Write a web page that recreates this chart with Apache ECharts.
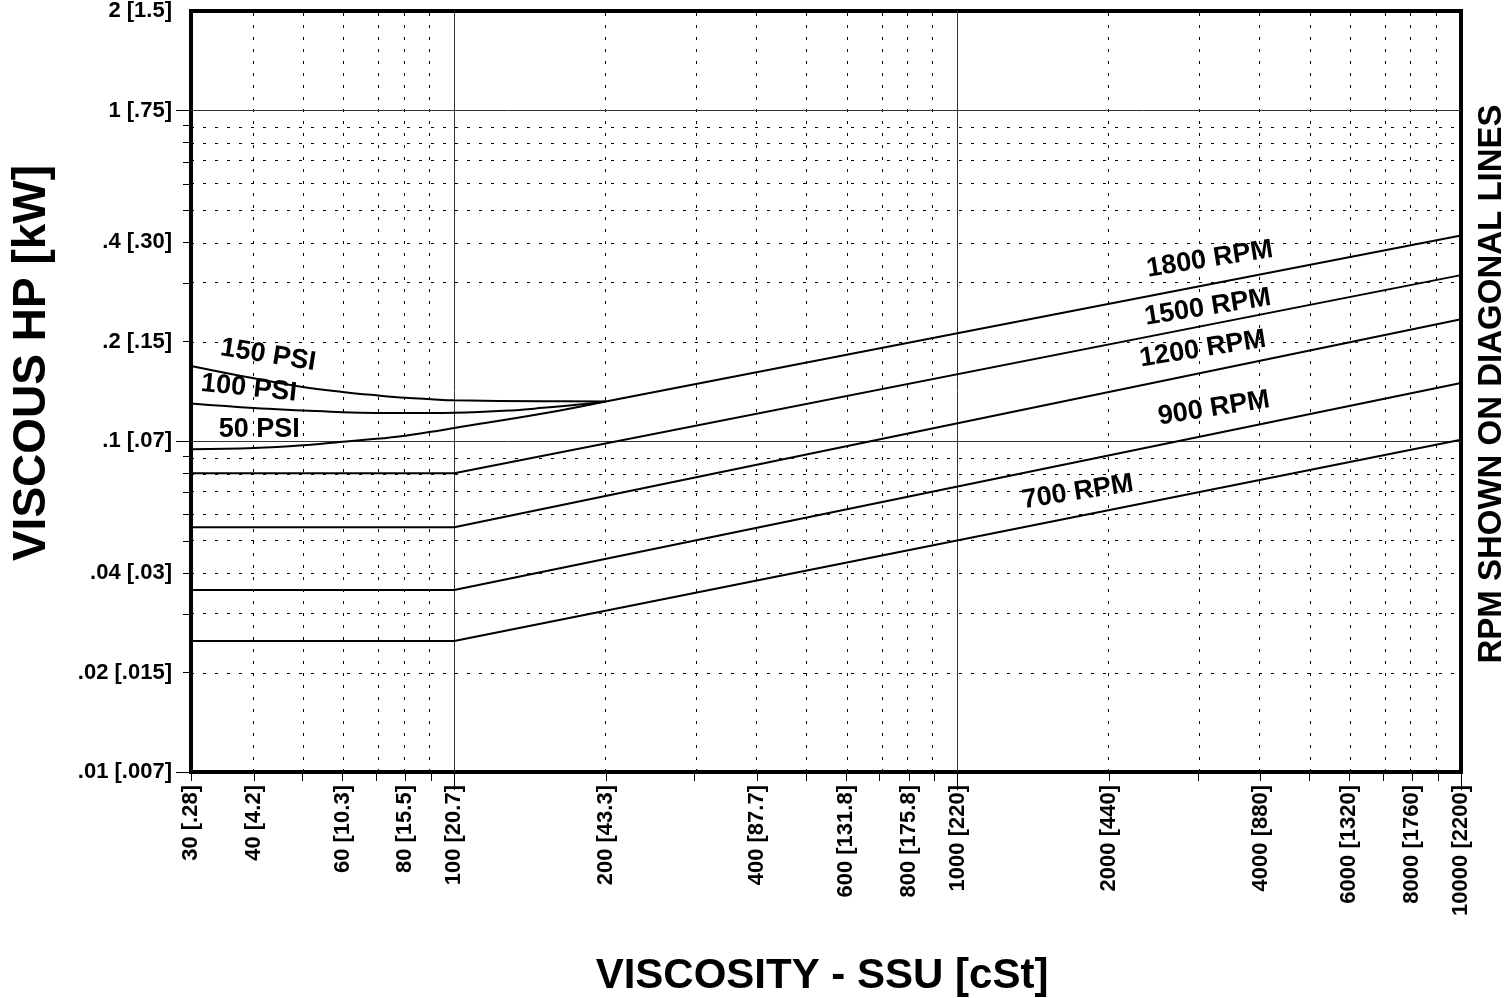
<!DOCTYPE html>
<html>
<head>
<meta charset="utf-8">
<script src="https://cdn.jsdelivr.net/npm/echarts@6/dist/echarts.min.js"></script>
<style>
html,body{margin:0;padding:0;background:#fff;}
#c{width:1508px;height:998px;}
</style>
</head>
<body>
<div id="c"></div>
<script>
// ---- axis ticks / labels ----
const xTickValues = [30, 40, 60, 80, 100, 200, 400, 600, 800, 1000, 2000, 4000, 6000, 8000, 10000];
const xTickLabels = ['30 [.28]', '40 [4.2]', '60 [10.3]', '80 [15.5]', '100 [20.7]', '200 [43.3]', '400 [87.7]', '600 [131.8]', '800 [175.8]', '1000 [220]', '2000 [440]', '4000 [880]', '6000 [1320]', '8000 [1760]', '10000 [2200]'];
const yTickValues = [0.01, 0.02, 0.04, 0.1, 0.2, 0.4, 1, 2];
const yTickLabels = ['.01 [.007]', '.02 [.015]', '.04 [.03]', '.1 [.07]', '.2 [.15]', '.4 [.30]', '1 [.75]', '2 [1.5]'];
const xMajorGrid = [100, 1000];
const xMinorGrid = [40, 50, 60, 70, 80, 90, 200, 300, 400, 500, 600, 700, 800, 900, 2000, 3000, 4000, 5000, 6000, 7000, 8000, 9000];
const xLongTicks = [100, 1000, 10000];
const xShortTicks = [30, 40, 50, 60, 70, 80, 90, 200, 300, 400, 500, 600, 700, 800, 900, 2000, 3000, 4000, 5000, 6000, 7000, 8000, 9000];
const yMajorGrid = [0.1, 1];
const yMinorGrid = [0.02, 0.03, 0.04, 0.05, 0.06, 0.07, 0.08, 0.09, 0.2, 0.3, 0.4, 0.5, 0.6, 0.7, 0.8, 0.9];
const yLongTicks = [0.01, 0.1, 1];
const yShortTicks = [0.02, 0.03, 0.04, 0.05, 0.06, 0.07, 0.08, 0.09, 0.2, 0.3, 0.4, 0.5, 0.6, 0.7, 0.8, 0.9];

// ---- series data: [viscosity SSU, viscous HP] ----
const rpm700  = [[30, 0.0249], [100, 0.0249], [10000, 0.101]];
const rpm900  = [[30, 0.0355], [100, 0.0355], [10000, 0.150]];
const rpm1200 = [[30, 0.0550], [100, 0.0550], [10000, 0.234]];
const rpm1500 = [[30, 0.0800], [100, 0.0800], [10000, 0.318]];
const rpm1800 = [[200, 0.132], [10000, 0.419]];
const psi150  = [[30, 0.169], [40, 0.155], [50, 0.146], [60, 0.141], [70, 0.1377], [80, 0.1353], [90, 0.134], [100, 0.133], [150, 0.1321], [200, 0.132]];
const psi100  = [[30, 0.130], [40, 0.126], [50, 0.124], [60, 0.1225], [80, 0.1217], [100, 0.122], [130, 0.124], [150, 0.1262], [175, 0.129], [200, 0.132]];
const psi50   = [[30, 0.0946], [40, 0.0954], [50, 0.0972], [60, 0.0997], [70, 0.1017], [80, 0.104], [90, 0.1068], [100, 0.1097], [150, 0.1213], [200, 0.132]];

// ---- curve labels (anchored at data coordinates) ----
const labelTexts  = ['150 PSI', '100 PSI', '50 PSI', '1800 RPM', '1500 RPM', '1200 RPM', '900 RPM', '700 RPM'];
const labelVisc   = [42.7, 39.1, 41.0, 3170, 3140, 3070, 3230, 1733];
const labelHp     = [0.182, 0.1446, 0.1087, 0.355, 0.254, 0.190, 0.1258, 0.0702];
const labelAngles = [-9, -6, 0, 9, 9, 9, 9, 9];

const L = v => Math.log10(v);
const near = (a, b) => Math.abs(a - b) < 1e-6;
const FONT = '"Liberation Sans", Arial, sans-serif';

function lineSeries(name, pts) {
  return {
    name: name, type: 'line', xAxisIndex: 0, yAxisIndex: 0,
    data: pts.map(p => [L(p[0]), L(p[1])]),
    showSymbol: false, symbol: 'none', smooth: false,
    lineStyle: { color: '#000', width: 2 }, silent: true, z: 5
  };
}
function curveSeries(name, pts) {
  const s = lineSeries(name, pts);
  s.smooth = 0.4;
  return s;
}

const chart = echarts.init(document.getElementById('c'), null, { renderer: 'canvas' });

const gridMarks = [];
xMinorGrid.forEach(v => gridMarks.push({ xAxis: L(v), lineStyle: { type: [3, 9], color: '#000', width: 1 } }));
yMinorGrid.forEach(v => gridMarks.push({ yAxis: L(v), lineStyle: { type: [3, 9], color: '#000', width: 1 } }));
xMajorGrid.forEach(v => gridMarks.push({ xAxis: L(v), lineStyle: { type: 'solid', color: '#333', width: 1 } }));
yMajorGrid.forEach(v => gridMarks.push({ yAxis: L(v), lineStyle: { type: 'solid', color: '#333', width: 1 } }));

const option = {
  animation: false,
  backgroundColor: '#fff',
  grid: { left: 191, right: 47, top: 11, bottom: 226, show: true, borderColor: '#000', borderWidth: 4, backgroundColor: 'transparent' },
  xAxis: [
    {
      type: 'value', position: 'bottom', min: L(30), max: L(10000),
      axisLine: { show: true, onZero: false, lineStyle: { color: '#000', width: 4 } },
      axisTick: { show: true, length: 18, customValues: xLongTicks.map(L), lineStyle: { color: '#000', width: 1 } },
      axisLabel: {
        show: true, customValues: xTickValues.map(L), rotate: 90, margin: 13,
        fontSize: 22, fontWeight: 'bold', fontFamily: FONT, color: '#000',
        formatter: function (val) {
          const i = xTickValues.findIndex(v => near(L(v), val));
          return i >= 0 ? xTickLabels[i] : '';
        }
      },
      splitLine: { show: false }
    },
    {
      type: 'value', position: 'bottom', min: L(30), max: L(10000),
      axisLine: { show: false, onZero: false },
      axisTick: { show: true, length: 9, customValues: xShortTicks.map(L), lineStyle: { color: '#000', width: 1 } },
      axisLabel: { show: false },
      splitLine: { show: false }
    }
  ],
  yAxis: [
    {
      type: 'value', position: 'left', min: L(0.01), max: L(2),
      axisLine: { show: true, onZero: false, lineStyle: { color: '#000', width: 4 } },
      axisTick: { show: true, length: 15, customValues: yLongTicks.map(L), lineStyle: { color: '#000', width: 1 } },
      axisLabel: {
        show: true, customValues: yTickValues.map(L), margin: 19,
        fontSize: 22, fontWeight: 'bold', fontFamily: FONT, color: '#000',
        formatter: function (val) {
          const i = yTickValues.findIndex(v => near(L(v), val));
          return i >= 0 ? yTickLabels[i] : '';
        }
      },
      splitLine: { show: false }
    },
    {
      type: 'value', position: 'left', min: L(0.01), max: L(2),
      axisLine: { show: false, onZero: false },
      axisTick: { show: true, length: 8, customValues: yShortTicks.map(L), lineStyle: { color: '#000', width: 1 } },
      axisLabel: { show: false },
      splitLine: { show: false }
    }
  ],
  graphic: [
    { type: 'text', x: 32, y: 363, rotation: Math.PI / 2,
      style: { text: 'VISCOUS HP [kW]', font: 'bold 46px ' + FONT, fill: '#000', align: 'center', verticalAlign: 'middle' } },
    { type: 'text', x: 822, y: 976,
      style: { text: 'VISCOSITY - SSU [cSt]', font: 'bold 42px ' + FONT, fill: '#000', align: 'center', verticalAlign: 'middle' } },
    { type: 'text', x: 1492, y: 384, rotation: Math.PI / 2,
      style: { text: 'RPM SHOWN ON DIAGONAL LINES', font: 'bold 33px ' + FONT, fill: '#000', align: 'center', verticalAlign: 'middle' } }
  ],
  series: [
    {
      name: 'grid', type: 'line', xAxisIndex: 0, yAxisIndex: 0, data: [], silent: true, z: 1,
      markLine: { silent: true, symbol: ['none', 'none'], label: { show: false }, animation: false, data: gridMarks }
    },
    lineSeries('700 RPM', rpm700),
    lineSeries('900 RPM', rpm900),
    lineSeries('1200 RPM', rpm1200),
    lineSeries('1500 RPM', rpm1500),
    lineSeries('1800 RPM', rpm1800),
    curveSeries('150 PSI', psi150),
    curveSeries('100 PSI', psi100),
    curveSeries('50 PSI', psi50),
    {
      name: 'labels', type: 'scatter', xAxisIndex: 0, yAxisIndex: 0, symbolSize: 0, silent: true, z: 10,
      itemStyle: { opacity: 1 },
      label: { show: true, position: 'inside', fontSize: 27, fontWeight: 'bold', fontFamily: FONT, color: '#000', opacity: 1 },
      data: labelTexts.map((t, i) => ({
        value: [L(labelVisc[i]), L(labelHp[i])],
        label: { formatter: t, rotate: labelAngles[i] }
      }))
    }
  ]
};
chart.setOption(option);
</script>
</body>
</html>
